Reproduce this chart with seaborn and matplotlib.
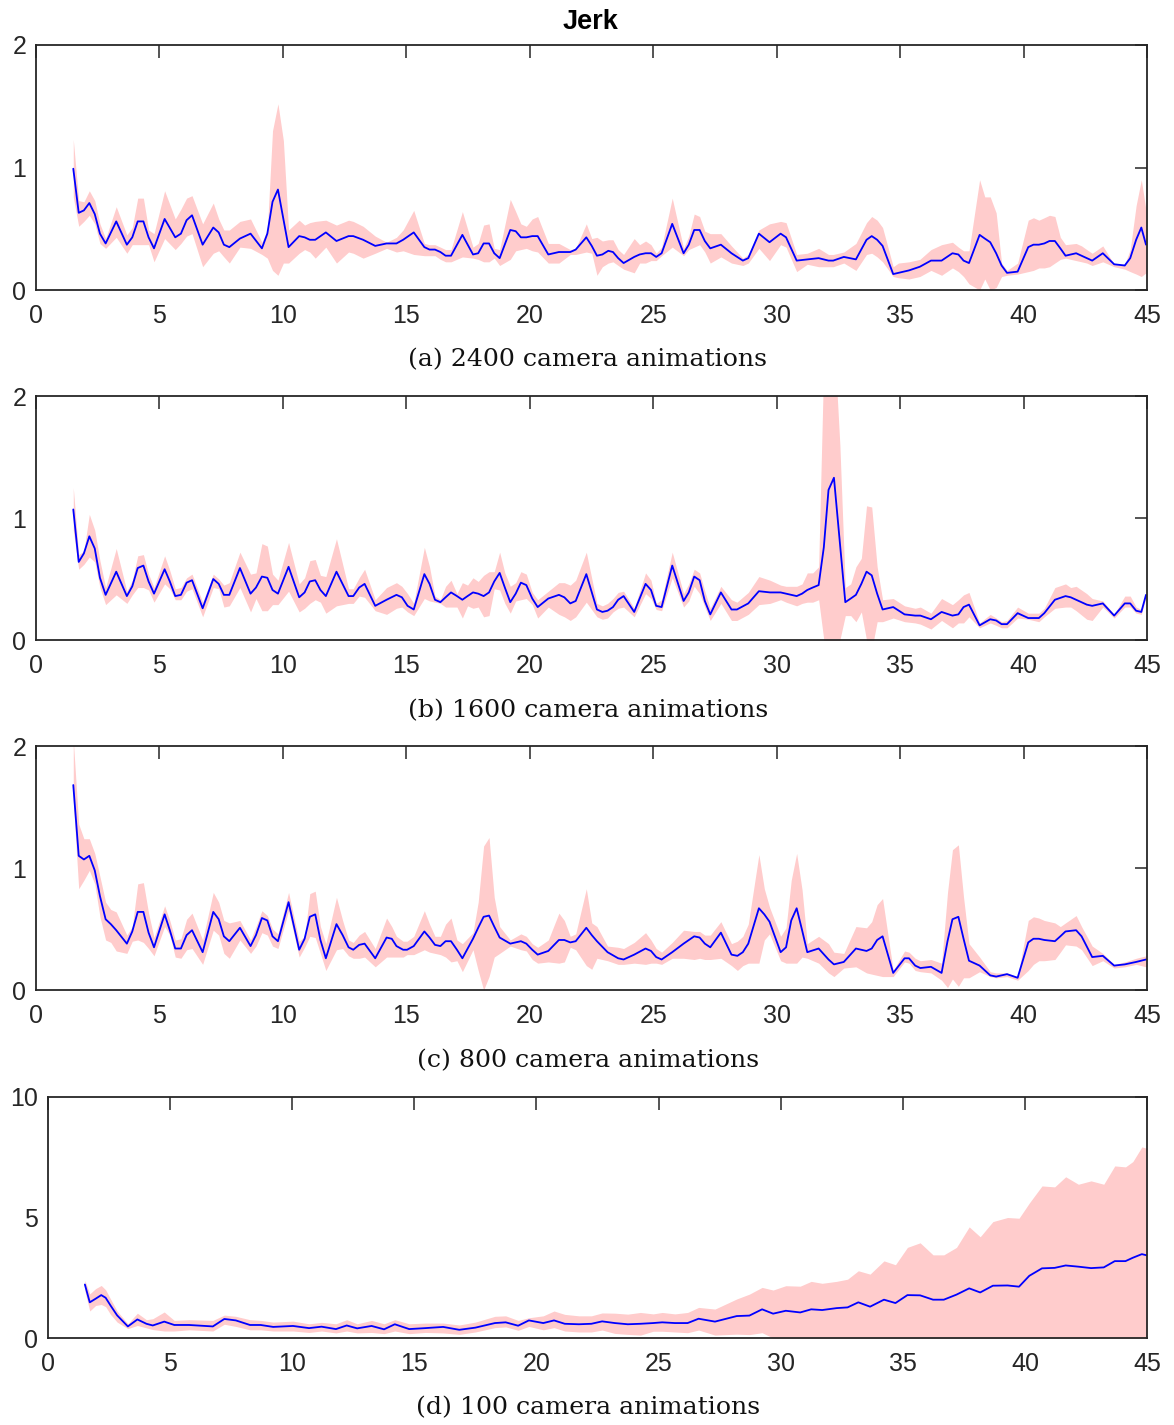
import numpy as np
import pandas as pd
import matplotlib
matplotlib.use("Agg")
import matplotlib.pyplot as plt
import seaborn as sns

# ---------------------------------------------------------------
# data (time [s], mean jerk, band low/high)
# ---------------------------------------------------------------
x_a = [1.51, 1.73, 1.94, 2.16, 2.38, 2.59, 2.82, 3.25, 3.68, 3.90, 4.12, 4.35, 4.56, 4.78, 5.21, 5.64,
       5.87, 6.10, 6.32, 6.75, 7.18, 7.40, 7.61, 7.83, 8.26, 8.69, 9.15, 9.37, 9.58, 9.80, 10.02, 10.23,
       10.66, 10.88, 11.09, 11.31, 11.74, 12.17, 12.66, 12.85, 13.25, 13.74, 14.20, 14.60, 14.87, 15.30,
       15.73, 15.94, 16.16, 16.38, 16.59, 16.81, 17.27, 17.70, 17.91, 18.13, 18.35, 18.56, 18.78, 19.21,
       19.43, 19.64, 19.86, 20.10, 20.32, 20.75, 21.18, 21.64, 21.86, 22.29, 22.51, 22.72, 22.94, 23.18,
       23.37, 23.58, 23.80, 24.23, 24.45, 24.69, 24.91, 25.12, 25.34, 25.77, 26.23, 26.44, 26.66, 26.88,
       27.09, 27.31, 27.74, 28.17, 28.63, 28.85, 29.28, 29.71, 30.16, 30.38, 30.81, 31.24, 31.70, 32.10,
       32.29, 32.72, 33.21, 33.64, 33.85, 34.07, 34.29, 34.72, 34.93, 35.36, 35.80, 36.25, 36.68, 37.12,
       37.36, 37.57, 37.79, 38.22, 38.43, 38.65, 38.89, 39.11, 39.33, 39.76, 40.19, 40.40, 40.62, 40.84,
       41.05, 41.27, 41.49, 41.70, 42.13, 42.35, 42.56, 42.78, 43.21, 43.67, 44.10, 44.32, 44.56, 44.77,
       44.96]
mean_a = [0.99, 0.63, 0.65, 0.71, 0.62, 0.46, 0.38, 0.56, 0.37, 0.43, 0.56, 0.56, 0.43, 0.34, 0.58, 0.43,
          0.46, 0.57, 0.61, 0.37, 0.51, 0.47, 0.37, 0.35, 0.42, 0.46, 0.34, 0.46, 0.72, 0.82, 0.58, 0.35,
          0.44, 0.43, 0.41, 0.41, 0.47, 0.40, 0.44, 0.44, 0.41, 0.36, 0.38, 0.38, 0.41, 0.47,
          0.35, 0.33, 0.33, 0.31, 0.28, 0.28, 0.45, 0.29, 0.30, 0.38, 0.38, 0.30, 0.26, 0.49,
          0.48, 0.43, 0.43, 0.44, 0.44, 0.29, 0.31, 0.31, 0.33, 0.43, 0.36, 0.28, 0.29, 0.32,
          0.31, 0.26, 0.22, 0.27, 0.29, 0.30, 0.30, 0.27, 0.30, 0.54, 0.30, 0.37, 0.49, 0.49,
          0.40, 0.34, 0.37, 0.30, 0.24, 0.26, 0.46, 0.39, 0.46, 0.43, 0.24, 0.25, 0.26, 0.24,
          0.24, 0.27, 0.25, 0.41, 0.44, 0.41, 0.36, 0.13, 0.14, 0.16, 0.19, 0.24, 0.24, 0.30,
          0.29, 0.24, 0.22, 0.45, 0.42, 0.39, 0.30, 0.20, 0.14, 0.15, 0.35, 0.37, 0.37, 0.38,
          0.40, 0.40, 0.34, 0.28, 0.30, 0.28, 0.26, 0.24, 0.30, 0.21, 0.20, 0.26, 0.41, 0.51,
          0.37]
lo_a = [0.76, 0.52, 0.56, 0.61, 0.54, 0.38, 0.34, 0.43, 0.30, 0.37, 0.37, 0.37, 0.37, 0.23, 0.42, 0.33,
        0.38, 0.44, 0.46, 0.19, 0.30, 0.32, 0.27, 0.22, 0.35, 0.34, 0.29, 0.26, 0.16, 0.12, 0.22, 0.22,
        0.30, 0.33, 0.31, 0.26, 0.35, 0.22, 0.31, 0.30, 0.26, 0.30, 0.34, 0.31, 0.32, 0.29,
        0.28, 0.28, 0.28, 0.25, 0.23, 0.23, 0.27, 0.26, 0.25, 0.23, 0.23, 0.26, 0.20, 0.25,
        0.32, 0.33, 0.34, 0.32, 0.31, 0.22, 0.22, 0.29, 0.29, 0.31, 0.30, 0.12, 0.19, 0.22,
        0.23, 0.20, 0.17, 0.14, 0.22, 0.22, 0.24, 0.24, 0.28, 0.35, 0.28, 0.33, 0.35, 0.37,
        0.31, 0.22, 0.27, 0.22, 0.20, 0.22, 0.34, 0.24, 0.37, 0.35, 0.15, 0.21, 0.19, 0.19,
        0.19, 0.22, 0.16, 0.29, 0.30, 0.27, 0.23, 0.11, 0.10, 0.09, 0.11, 0.16, 0.12, 0.18,
        0.15, 0.11, 0.05, 0.00, 0.09, 0.00, 0.02, 0.11, 0.12, 0.13, 0.15, 0.16, 0.18, 0.18,
        0.19, 0.22, 0.25, 0.26, 0.24, 0.23, 0.22, 0.20, 0.23, 0.19, 0.17, 0.15, 0.13, 0.11,
        0.14]
hi_a = [1.23, 0.73, 0.72, 0.81, 0.73, 0.54, 0.42, 0.68, 0.45, 0.51, 0.75, 0.75, 0.49, 0.46, 0.81, 0.58,
        0.66, 0.75, 0.77, 0.54, 0.71, 0.58, 0.49, 0.49, 0.56, 0.58, 0.39, 0.49, 1.30, 1.52, 1.22, 0.49,
        0.57, 0.53, 0.55, 0.56, 0.57, 0.53, 0.57, 0.56, 0.52, 0.44, 0.39, 0.43, 0.49, 0.65,
        0.38, 0.37, 0.37, 0.35, 0.33, 0.33, 0.64, 0.35, 0.38, 0.53, 0.54, 0.34, 0.33, 0.74,
        0.64, 0.54, 0.52, 0.58, 0.60, 0.38, 0.38, 0.33, 0.34, 0.54, 0.42, 0.43, 0.40, 0.41,
        0.41, 0.33, 0.29, 0.42, 0.37, 0.40, 0.37, 0.30, 0.35, 0.75, 0.34, 0.44, 0.62, 0.60,
        0.48, 0.46, 0.46, 0.36, 0.26, 0.29, 0.49, 0.54, 0.56, 0.55, 0.29, 0.30, 0.34, 0.29,
        0.29, 0.31, 0.38, 0.55, 0.60, 0.57, 0.51, 0.19, 0.22, 0.23, 0.25, 0.33, 0.37, 0.39,
        0.35, 0.32, 0.32, 0.90, 0.76, 0.76, 0.63, 0.22, 0.16, 0.22, 0.57, 0.59, 0.57, 0.59,
        0.61, 0.60, 0.43, 0.37, 0.38, 0.36, 0.33, 0.30, 0.36, 0.21, 0.21, 0.33, 0.69, 0.90,
        0.65]

x_b = [1.51, 1.73, 1.94, 2.16, 2.38, 2.59, 2.82, 3.25, 3.68, 3.90, 4.12, 4.35, 4.56, 4.78, 5.21, 5.42,
       5.64, 5.87, 6.10, 6.32, 6.75, 7.18, 7.40, 7.61, 7.83, 8.26, 8.69, 8.91, 9.15, 9.37, 9.58, 9.80,
       10.23, 10.66, 10.88, 11.09, 11.31, 11.52, 11.74, 12.17, 12.66, 12.85, 13.09, 13.31, 13.74, 14.20,
       14.60, 14.82, 15.05, 15.30, 15.73, 15.94, 16.16, 16.38, 16.59, 16.81, 17.05, 17.27, 17.48, 17.70,
       17.91, 18.13, 18.35, 18.56, 18.78, 18.99, 19.21, 19.43, 19.64, 19.86, 20.10, 20.32, 20.75, 21.18,
       21.40, 21.64, 21.86, 22.29, 22.72, 22.94, 23.15, 23.37, 23.58, 23.80, 24.23, 24.69, 24.91, 25.12,
       25.34, 25.77, 26.23, 26.44, 26.66, 26.88, 27.09, 27.31, 27.74, 28.17, 28.39, 28.85, 29.28, 29.73,
       30.16, 30.38, 30.81, 31.03, 31.24, 31.46, 31.70, 31.91, 32.10, 32.32, 32.56, 32.78, 33.00, 33.21,
       33.43, 33.64, 33.85, 34.07, 34.29, 34.72, 35.18, 35.61, 35.82, 36.25, 36.68, 37.12, 37.36, 37.57,
       37.79, 38.22, 38.65, 38.89, 39.11, 39.33, 39.76, 40.19, 40.62, 40.84, 41.27, 41.70, 41.91, 42.13,
       42.56, 42.78, 43.21, 43.67, 44.10, 44.32, 44.56, 44.77, 44.96]
mean_b = [1.07, 0.64, 0.71, 0.85, 0.75, 0.51, 0.37, 0.56, 0.36, 0.44, 0.59, 0.61, 0.48, 0.38, 0.58, 0.48,
          0.36, 0.37, 0.47, 0.49, 0.26, 0.50, 0.46, 0.37, 0.37, 0.59, 0.38, 0.43, 0.52, 0.51, 0.41, 0.38,
          0.60, 0.35, 0.39, 0.48, 0.49, 0.41, 0.36, 0.56, 0.36, 0.36, 0.43, 0.46, 0.28, 0.33,
          0.37, 0.35, 0.28, 0.25, 0.54, 0.46, 0.33, 0.31, 0.35, 0.39, 0.36, 0.33, 0.36, 0.39,
          0.38, 0.36, 0.39, 0.48, 0.55, 0.43, 0.31, 0.38, 0.47, 0.45, 0.34, 0.27, 0.34, 0.37,
          0.35, 0.30, 0.32, 0.54, 0.25, 0.23, 0.24, 0.27, 0.33, 0.36, 0.23, 0.46, 0.41, 0.28,
          0.27, 0.61, 0.32, 0.39, 0.52, 0.49, 0.32, 0.21, 0.39, 0.25, 0.25, 0.30, 0.40, 0.39,
          0.39, 0.38, 0.36, 0.38, 0.41, 0.43, 0.45, 0.76, 1.23, 1.33, 0.80, 0.31, 0.34, 0.37,
          0.46, 0.56, 0.53, 0.38, 0.25, 0.27, 0.21, 0.20, 0.20, 0.17, 0.23, 0.20, 0.21, 0.27,
          0.29, 0.12, 0.17, 0.16, 0.13, 0.13, 0.22, 0.18, 0.18, 0.22, 0.33, 0.36, 0.35, 0.33,
          0.29, 0.28, 0.30, 0.20, 0.30, 0.30, 0.24, 0.23, 0.37]
lo_b = [0.90, 0.58, 0.62, 0.68, 0.64, 0.43, 0.29, 0.37, 0.30, 0.37, 0.43, 0.43, 0.41, 0.31, 0.46, 0.42,
        0.33, 0.33, 0.40, 0.42, 0.19, 0.43, 0.42, 0.27, 0.28, 0.43, 0.23, 0.34, 0.24, 0.24, 0.29, 0.29,
        0.40, 0.23, 0.26, 0.30, 0.33, 0.31, 0.22, 0.28, 0.30, 0.30, 0.36, 0.35, 0.24, 0.21,
        0.26, 0.27, 0.23, 0.20, 0.34, 0.32, 0.31, 0.30, 0.27, 0.27, 0.27, 0.18, 0.28, 0.26,
        0.27, 0.19, 0.20, 0.42, 0.41, 0.30, 0.22, 0.32, 0.33, 0.34, 0.29, 0.18, 0.27, 0.21,
        0.19, 0.16, 0.19, 0.31, 0.19, 0.17, 0.18, 0.23, 0.26, 0.27, 0.19, 0.38, 0.34, 0.25,
        0.24, 0.51, 0.27, 0.32, 0.44, 0.38, 0.27, 0.16, 0.30, 0.16, 0.16, 0.21, 0.29, 0.30,
        0.33, 0.31, 0.28, 0.30, 0.31, 0.31, 0.33, 0.00, -0.10, -0.10, 0.00, 0.20, 0.20, 0.15,
        0.23, 0.00, -0.08, 0.15, 0.15, 0.18, 0.15, 0.14, 0.13, 0.09, 0.16, 0.10, 0.14, 0.14,
        0.19, 0.10, 0.14, 0.12, 0.10, 0.10, 0.18, 0.17, 0.15, 0.19, 0.26, 0.27, 0.27, 0.24,
        0.17, 0.16, 0.27, 0.18, 0.27, 0.27, 0.22, 0.21, 0.35]
hi_b = [1.25, 0.70, 0.73, 1.03, 0.90, 0.65, 0.43, 0.75, 0.40, 0.49, 0.69, 0.70, 0.54, 0.43, 0.69, 0.57,
        0.42, 0.43, 0.51, 0.54, 0.31, 0.54, 0.50, 0.45, 0.47, 0.72, 0.54, 0.55, 0.79, 0.77, 0.54, 0.49,
        0.80, 0.46, 0.51, 0.65, 0.66, 0.53, 0.52, 0.83, 0.42, 0.42, 0.51, 0.58, 0.33, 0.43,
        0.47, 0.44, 0.38, 0.30, 0.76, 0.60, 0.36, 0.33, 0.44, 0.49, 0.38, 0.47, 0.45, 0.51,
        0.48, 0.53, 0.56, 0.56, 0.72, 0.55, 0.44, 0.47, 0.56, 0.54, 0.39, 0.33, 0.40, 0.47,
        0.47, 0.45, 0.49, 0.72, 0.30, 0.28, 0.30, 0.34, 0.39, 0.40, 0.26, 0.55, 0.49, 0.30,
        0.33, 0.72, 0.38, 0.46, 0.58, 0.55, 0.40, 0.26, 0.44, 0.33, 0.31, 0.39, 0.52, 0.49,
        0.45, 0.44, 0.44, 0.46, 0.55, 0.55, 0.60, 2.30, 2.60, 2.50, 1.60, 0.43, 0.46, 0.60,
        0.67, 1.10, 1.09, 0.60, 0.33, 0.34, 0.28, 0.26, 0.27, 0.22, 0.34, 0.29, 0.33, 0.37,
        0.39, 0.14, 0.21, 0.18, 0.15, 0.16, 0.27, 0.22, 0.22, 0.26, 0.43, 0.46, 0.43, 0.44,
        0.38, 0.34, 0.32, 0.21, 0.36, 0.36, 0.27, 0.25, 0.38]

x_c = [1.51, 1.73, 1.94, 2.16, 2.38, 2.59, 2.82, 3.03, 3.25, 3.68, 3.90, 4.12, 4.35, 4.56, 4.78, 5.21,
       5.42, 5.64, 5.87, 6.10, 6.32, 6.75, 7.18, 7.40, 7.61, 7.83, 8.26, 8.69, 8.91, 9.15, 9.37, 9.58,
       9.80, 10.23, 10.66, 10.88, 11.09, 11.31, 11.52, 11.74, 12.17, 12.42, 12.66, 12.85, 13.09, 13.31,
       13.74, 14.20, 14.41, 14.60, 14.87, 15.03, 15.30, 15.73, 15.94, 16.16, 16.38, 16.59, 16.81, 17.05,
       17.27, 17.70, 17.91, 18.13, 18.35, 18.56, 18.78, 19.21, 19.64, 19.86, 20.10, 20.32, 20.75, 21.18,
       21.40, 21.64, 21.86, 22.29, 22.51, 22.72, 23.15, 23.58, 23.80, 24.23, 24.69, 24.91, 25.12, 25.34,
       25.77, 26.23, 26.66, 26.88, 27.09, 27.31, 27.74, 28.17, 28.41, 28.63, 28.85, 29.28, 29.50, 29.71,
       30.16, 30.38, 30.59, 30.81, 31.03, 31.24, 31.70, 32.10, 32.32, 32.72, 33.21, 33.64, 33.85, 34.07,
       34.29, 34.72, 35.18, 35.36, 35.61, 35.82, 36.25, 36.68, 36.92, 37.12, 37.36, 37.57, 37.79, 38.22,
       38.65, 38.89, 39.33, 39.76, 40.19, 40.40, 40.62, 40.84, 41.27, 41.49, 41.70, 42.13, 42.35, 42.78,
       43.21, 43.67, 44.10, 44.56, 44.96]
mean_c = [1.68, 1.10, 1.07, 1.10, 0.98, 0.77, 0.58, 0.54, 0.49, 0.38, 0.48, 0.64, 0.64, 0.47, 0.35, 0.62,
          0.49, 0.34, 0.34, 0.45, 0.49, 0.31, 0.64, 0.58, 0.44, 0.40, 0.51, 0.36, 0.45, 0.59, 0.57, 0.44,
          0.40, 0.72, 0.33, 0.42, 0.60, 0.62, 0.41, 0.26, 0.54, 0.45, 0.35, 0.33, 0.37, 0.38,
          0.26, 0.43, 0.42, 0.36, 0.33, 0.33, 0.36, 0.48, 0.43, 0.37, 0.36, 0.40, 0.40, 0.33,
          0.26, 0.42, 0.51, 0.60, 0.61, 0.52, 0.43, 0.38, 0.40, 0.38, 0.33, 0.29, 0.32, 0.41,
          0.41, 0.39, 0.40, 0.51, 0.45, 0.40, 0.31, 0.26, 0.25, 0.29, 0.34, 0.32, 0.27, 0.25,
          0.31, 0.38, 0.44, 0.43, 0.38, 0.35, 0.47, 0.29, 0.28, 0.31, 0.38, 0.67, 0.62, 0.56,
          0.31, 0.35, 0.57, 0.67, 0.49, 0.31, 0.34, 0.25, 0.21, 0.23, 0.34, 0.32, 0.34, 0.41,
          0.44, 0.14, 0.26, 0.26, 0.20, 0.18, 0.19, 0.14, 0.40, 0.58, 0.60, 0.42, 0.24, 0.20,
          0.12, 0.11, 0.13, 0.10, 0.39, 0.42, 0.42, 0.41, 0.40, 0.44, 0.48, 0.49, 0.44, 0.27,
          0.28, 0.20, 0.21, 0.23, 0.25]
lo_c = [1.55, 0.83, 0.90, 0.98, 0.87, 0.60, 0.41, 0.39, 0.32, 0.30, 0.40, 0.41, 0.39, 0.34, 0.28, 0.52,
        0.45, 0.27, 0.26, 0.33, 0.34, 0.21, 0.49, 0.45, 0.30, 0.26, 0.41, 0.30, 0.36, 0.47, 0.45, 0.36,
        0.34, 0.65, 0.27, 0.35, 0.44, 0.43, 0.30, 0.16, 0.33, 0.34, 0.28, 0.26, 0.26, 0.27,
        0.19, 0.27, 0.27, 0.27, 0.27, 0.29, 0.29, 0.33, 0.31, 0.30, 0.29, 0.27, 0.23, 0.24,
        0.15, 0.33, 0.16, 0.00, 0.11, 0.27, 0.30, 0.36, 0.33, 0.32, 0.25, 0.22, 0.23, 0.22,
        0.23, 0.35, 0.33, 0.20, 0.17, 0.26, 0.24, 0.21, 0.21, 0.22, 0.21, 0.22, 0.22, 0.21,
        0.26, 0.26, 0.25, 0.26, 0.25, 0.25, 0.26, 0.20, 0.16, 0.20, 0.22, 0.22, 0.41, 0.46,
        0.24, 0.22, 0.22, 0.22, 0.27, 0.26, 0.22, 0.14, 0.11, 0.18, 0.19, 0.14, 0.13, 0.12,
        0.11, 0.11, 0.23, 0.22, 0.16, 0.15, 0.14, 0.08, 0.02, 0.09, 0.03, 0.10, 0.10, 0.15,
        0.11, 0.10, 0.11, 0.08, 0.16, 0.21, 0.24, 0.24, 0.25, 0.31, 0.37, 0.36, 0.33, 0.20,
        0.24, 0.18, 0.19, 0.21, 0.19]
hi_c = [2.05, 1.36, 1.24, 1.24, 1.12, 0.93, 0.72, 0.66, 0.64, 0.45, 0.52, 0.87, 0.88, 0.63, 0.43, 0.69,
        0.57, 0.41, 0.42, 0.58, 0.63, 0.41, 0.80, 0.72, 0.57, 0.55, 0.57, 0.41, 0.52, 0.65, 0.61, 0.50,
        0.46, 0.80, 0.40, 0.44, 0.79, 0.81, 0.52, 0.38, 0.76, 0.57, 0.41, 0.39, 0.45, 0.48,
        0.34, 0.59, 0.52, 0.44, 0.40, 0.40, 0.44, 0.65, 0.54, 0.44, 0.44, 0.54, 0.59, 0.41,
        0.38, 0.47, 0.72, 1.18, 1.25, 0.76, 0.52, 0.41, 0.46, 0.44, 0.38, 0.35, 0.41, 0.63,
        0.57, 0.44, 0.46, 0.83, 0.55, 0.52, 0.36, 0.35, 0.34, 0.39, 0.47, 0.41, 0.34, 0.31,
        0.39, 0.49, 0.48, 0.48, 0.45, 0.45, 0.56, 0.38, 0.40, 0.44, 0.54, 1.11, 0.83, 0.68,
        0.44, 0.51, 0.90, 1.12, 0.82, 0.38, 0.44, 0.38, 0.31, 0.30, 0.52, 0.51, 0.56, 0.70,
        0.75, 0.16, 0.32, 0.31, 0.26, 0.24, 0.25, 0.22, 0.80, 1.15, 1.19, 0.76, 0.38, 0.27,
        0.15, 0.14, 0.14, 0.11, 0.57, 0.60, 0.59, 0.57, 0.55, 0.52, 0.55, 0.61, 0.52, 0.36,
        0.30, 0.21, 0.23, 0.26, 0.28]

x_d = [1.51, 1.71, 1.95, 2.18, 2.36, 2.56, 2.83, 3.27, 3.66, 4.03, 4.29, 4.76, 5.17, 5.78, 6.75, 7.22,
       7.69, 8.27, 8.71, 9.22, 10.03, 10.69, 11.20, 11.79, 12.23, 12.66, 13.25, 13.76, 14.20, 14.79,
       15.45, 16.18, 16.84, 17.50, 18.30, 18.74, 19.25, 19.69, 20.28, 20.72, 21.16, 21.74, 22.25, 22.69,
       23.21, 23.74, 24.26, 24.78, 25.15, 25.67, 26.19, 26.64, 27.31, 28.20, 28.72, 29.24, 29.69, 30.21,
       30.80, 31.25, 31.70, 32.29, 32.74, 33.18, 33.66, 34.23, 34.70, 35.19, 35.71, 36.24, 36.68, 37.20,
       37.72, 38.17, 38.69, 39.29, 39.76, 40.18, 40.70, 41.22, 41.67, 42.19, 42.71, 43.23, 43.68, 44.12,
       44.42, 44.79, 44.99]
mean_d = [2.22, 1.48, 1.63, 1.78, 1.67, 1.35, 0.94, 0.48, 0.77, 0.59, 0.52, 0.68, 0.54, 0.54, 0.48, 0.79,
          0.73, 0.54, 0.54, 0.46, 0.50, 0.41, 0.47, 0.37, 0.52, 0.40, 0.50, 0.36, 0.57, 0.37,
          0.41, 0.46, 0.34, 0.43, 0.62, 0.65, 0.51, 0.73, 0.62, 0.73, 0.59, 0.57, 0.59, 0.69,
          0.62, 0.57, 0.59, 0.62, 0.65, 0.62, 0.62, 0.80, 0.68, 0.91, 0.93, 1.19, 1.01, 1.13,
          1.06, 1.19, 1.16, 1.24, 1.27, 1.48, 1.30, 1.59, 1.45, 1.78, 1.77, 1.59, 1.59, 1.80,
          2.06, 1.89, 2.17, 2.18, 2.13, 2.58, 2.89, 2.91, 3.01, 2.96, 2.90, 2.93, 3.19, 3.19,
          3.33, 3.48, 3.43]
lo_d = [1.95, 1.12, 1.35, 1.39, 1.30, 0.98, 0.66, 0.39, 0.52, 0.42, 0.35, 0.29, 0.29, 0.34, 0.29, 0.57,
        0.48, 0.34, 0.34, 0.29, 0.29, 0.23, 0.29, 0.21, 0.29, 0.21, 0.23, 0.18, 0.29, 0.18,
        0.23, 0.21, 0.15, 0.25, 0.43, 0.46, 0.32, 0.48, 0.34, 0.43, 0.29, 0.25, 0.25, 0.33,
        0.19, 0.15, 0.12, 0.28, 0.28, 0.25, 0.22, 0.33, 0.12, 0.16, 0.14, 0.22, 0.00, -0.05,
        -0.10, -0.05, -0.10, -0.10, -0.15, -0.20, -0.20, -0.30, -0.30, -0.40, -0.40, -0.40, -0.40, -0.50,
        -0.50, -0.50, -0.60, -0.60, -0.60, -0.80, -0.80, -0.80, -0.90, -0.90, -0.90, -0.90, -1.00, -1.00,
        -1.00, -1.00, -1.00]
hi_d = [2.39, 1.83, 2.05, 2.18, 2.00, 1.62, 1.12, 0.59, 1.03, 0.76, 0.80, 1.08, 0.73, 0.76, 0.73, 0.95,
        0.90, 0.76, 0.73, 0.66, 0.70, 0.59, 0.65, 0.59, 0.76, 0.59, 0.73, 0.59, 0.76, 0.59,
        0.62, 0.62, 0.54, 0.66, 0.90, 0.92, 0.73, 0.84, 0.92, 1.12, 0.98, 0.92, 0.92, 1.04,
        1.03, 0.99, 1.06, 1.00, 1.06, 1.00, 1.06, 1.27, 1.20, 1.62, 1.82, 2.10, 1.99, 2.17,
        2.15, 2.35, 2.27, 2.35, 2.44, 2.79, 2.65, 3.20, 3.04, 3.76, 3.95, 3.45, 3.45, 3.76,
        4.61, 4.20, 4.83, 5.00, 4.97, 5.60, 6.31, 6.27, 6.69, 6.38, 6.52, 6.38, 7.14, 7.10,
        7.32, 7.93, 7.87]

captions = ["(a) 2400 camera animations", "(b) 1600 camera animations",
            "(c) 800 camera animations", "(d) 100 camera animations"]
panels = [(x_a, mean_a, lo_a, hi_a), (x_b, mean_b, lo_b, hi_b),
          (x_c, mean_c, lo_c, hi_c), (x_d, mean_d, lo_d, hi_d)]
ylims = [(0, 2), (0, 2), (0, 2), (0, 10)]
yticks = [[0, 1, 2], [0, 1, 2], [0, 1, 2], [0, 5, 10]]

# ---------------------------------------------------------------
# layout (pixels of the 1174x1425 figure)
# ---------------------------------------------------------------
W, H = 1174, 1425
boxes = [(36, 45, 1147, 290), (36, 396, 1147, 640), (36, 746, 1147, 990), (48, 1097, 1147, 1338)]
cap_y = [360, 711, 1061, 1408]

sns.set_style("white")
plt.rcParams['font.family'] = ['Liberation Sans', 'DejaVu Sans']

fig = plt.figure(figsize=(W / 100, H / 100), dpi=100)

for i, (xs, m, lo, hi) in enumerate(panels):
    l, t, r, b = boxes[i]
    ax = fig.add_axes([l / W, 1 - b / H, (r - l) / W, (b - t) / H])
    df = pd.DataFrame({'t': xs, 'jerk': m, 'lo': lo, 'hi': hi})
    ax.fill_between(df['t'], df['lo'], df['hi'], color='#ffcccc', linewidth=0)
    sns.lineplot(data=df, x='t', y='jerk', ax=ax, color='#0000ff', linewidth=1.3, estimator=None)
    ax.set_xlim(0, 45)
    ax.set_ylim(*ylims[i])
    ax.set_xticks(range(0, 46, 5))
    ax.set_yticks(yticks[i])
    ax.set_xlabel('')
    ax.set_ylabel('')
    ax.tick_params(direction='in', length=9, width=1.1, colors='#262626',
                   labelsize=18, top=True, right=True, pad=7)
    ax.tick_params(axis='x', pad=10)
    for sp in ax.spines.values():
        sp.set_color('#262626')
        sp.set_linewidth(1.3)
    fig.text(588 / W, 1 - cap_y[i] / H, captions[i], ha='center', va='center',
             fontsize=18.2, family=['DejaVu Serif'], color='#111111')

fig.text(591 / W, 1 - 22 / H, 'Jerk', ha='center', va='center', fontsize=19.5,
         fontweight='bold', color='black')

fig.savefig('out.png', dpi=100)
